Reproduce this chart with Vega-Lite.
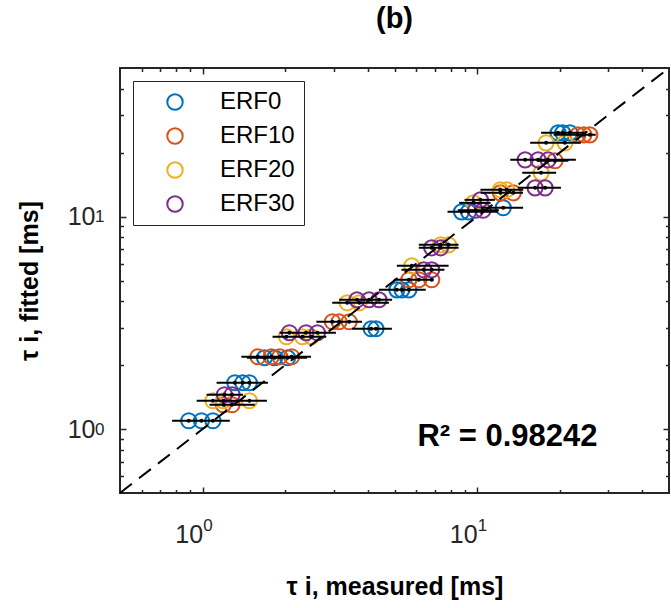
{
  "$schema": "https://vega.github.io/schema/vega-lite/v6.json",
  "width": 549,
  "height": 425,
  "autosize": "none",
  "padding": {"left": 120, "top": 68, "right": 2, "bottom": 115},
  "background": "white",
  "title": {"text": "(b)", "fontSize": 29, "fontWeight": "bold", "font": "Liberation Sans", "color": "black", "offset": 30, "anchor": "middle"},
  "config": {
    "font": "Liberation Sans",
    "view": {"stroke": "#262626", "strokeWidth": 2},
    "axis": {"domain": false, "grid": false, "tickColor": "#262626", "tickWidth": 1.5, "labelFont": "Liberation Sans", "labelColor": "#262626", "titleFont": "Liberation Sans", "titleColor": "black"}
  },
  "datasets": {
    "pts": [
      {"g": "ERF0", "x": 0.89, "y": 1.094}, {"g": "ERF0", "x": 0.99, "y": 1.094}, {"g": "ERF0", "x": 1.09, "y": 1.094},
      {"g": "ERF0", "x": 1.31, "y": 1.651}, {"g": "ERF0", "x": 1.40, "y": 1.651}, {"g": "ERF0", "x": 1.48, "y": 1.651},
      {"g": "ERF0", "x": 1.68, "y": 2.164}, {"g": "ERF0", "x": 1.83, "y": 2.164}, {"g": "ERF0", "x": 2.04, "y": 2.164},
      {"g": "ERF0", "x": 4.11, "y": 2.963}, {"g": "ERF0", "x": 4.28, "y": 2.963},
      {"g": "ERF0", "x": 5.10, "y": 4.52}, {"g": "ERF0", "x": 5.32, "y": 4.52}, {"g": "ERF0", "x": 5.64, "y": 4.52},
      {"g": "ERF0", "x": 8.77, "y": 10.52}, {"g": "ERF0", "x": 9.30, "y": 10.52},
      {"g": "ERF0", "x": 12.45, "y": 11.0},
      {"g": "ERF0", "x": 19.71, "y": 24.77}, {"g": "ERF0", "x": 20.5, "y": 24.77}, {"g": "ERF0", "x": 21.78, "y": 24.77},
      {"g": "ERF10", "x": 1.19, "y": 1.301}, {"g": "ERF10", "x": 1.28, "y": 1.301},
      {"g": "ERF10", "x": 1.59, "y": 2.188}, {"g": "ERF10", "x": 1.78, "y": 2.188}, {"g": "ERF10", "x": 1.91, "y": 2.188}, {"g": "ERF10", "x": 2.11, "y": 2.188},
      {"g": "ERF10", "x": 2.97, "y": 3.197}, {"g": "ERF10", "x": 3.14, "y": 3.197}, {"g": "ERF10", "x": 3.42, "y": 3.197},
      {"g": "ERF10", "x": 5.64, "y": 5.04}, {"g": "ERF10", "x": 6.13, "y": 5.04}, {"g": "ERF10", "x": 6.83, "y": 5.04},
      {"g": "ERF10", "x": 12.15, "y": 12.93}, {"g": "ERF10", "x": 13.54, "y": 12.93},
      {"g": "ERF10", "x": 19.22, "y": 18.3},
      {"g": "ERF10", "x": 23.28, "y": 24.23}, {"g": "ERF10", "x": 24.5, "y": 24.23}, {"g": "ERF10", "x": 25.73, "y": 24.23},
      {"g": "ERF20", "x": 1.09, "y": 1.359}, {"g": "ERF20", "x": 1.19, "y": 1.359}, {"g": "ERF20", "x": 1.48, "y": 1.359},
      {"g": "ERF20", "x": 2.02, "y": 2.718}, {"g": "ERF20", "x": 2.31, "y": 2.718}, {"g": "ERF20", "x": 2.49, "y": 2.718},
      {"g": "ERF20", "x": 3.36, "y": 3.927}, {"g": "ERF20", "x": 3.72, "y": 3.927},
      {"g": "ERF20", "x": 5.78, "y": 5.864},
      {"g": "ERF20", "x": 7.36, "y": 7.361}, {"g": "ERF20", "x": 7.87, "y": 7.361},
      {"g": "ERF20", "x": 9.70, "y": 11.6},
      {"g": "ERF20", "x": 12.15, "y": 13.36}, {"g": "ERF20", "x": 12.8, "y": 13.36},
      {"g": "ERF20", "x": 17.1, "y": 16.06},
      {"g": "ERF20", "x": 17.83, "y": 22.23}, {"g": "ERF20", "x": 20.89, "y": 22.23},
      {"g": "ERF30", "x": 1.20, "y": 1.45}, {"g": "ERF30", "x": 1.28, "y": 1.45},
      {"g": "ERF30", "x": 2.07, "y": 2.838}, {"g": "ERF30", "x": 2.38, "y": 2.838}, {"g": "ERF30", "x": 2.62, "y": 2.838},
      {"g": "ERF30", "x": 3.65, "y": 4.057}, {"g": "ERF30", "x": 4.04, "y": 4.057}, {"g": "ERF30", "x": 4.39, "y": 4.057},
      {"g": "ERF30", "x": 6.39, "y": 5.615}, {"g": "ERF30", "x": 6.83, "y": 5.615},
      {"g": "ERF30", "x": 6.83, "y": 7.126}, {"g": "ERF30", "x": 7.36, "y": 7.126},
      {"g": "ERF30", "x": 9.86, "y": 10.7}, {"g": "ERF30", "x": 10.5, "y": 10.7},
      {"g": "ERF30", "x": 10.28, "y": 11.98},
      {"g": "ERF30", "x": 16.26, "y": 13.65}, {"g": "ERF30", "x": 17.69, "y": 13.65},
      {"g": "ERF30", "x": 14.96, "y": 18.48}, {"g": "ERF30", "x": 16.68, "y": 18.48}, {"g": "ERF30", "x": 18.13, "y": 18.48}
    ],
    "bars": [
      {"g": "ERF0", "y": 1.094, "lo": 0.774, "hi": 1.256},
      {"g": "ERF0", "y": 1.651, "lo": 1.124, "hi": 1.729},
      {"g": "ERF0", "y": 2.164, "lo": 1.45, "hi": 2.40},
      {"g": "ERF0", "y": 2.963, "lo": 3.504, "hi": 4.892},
      {"g": "ERF0", "y": 4.52, "lo": 4.39, "hi": 6.497},
      {"g": "ERF0", "y": 10.52, "lo": 7.8, "hi": 11.9},
      {"g": "ERF0", "y": 11.0, "lo": 10.3, "hi": 14.7},
      {"g": "ERF0", "y": 24.77, "lo": 17.1, "hi": 24.5},
      {"g": "ERF10", "y": 1.301, "lo": 1.06, "hi": 1.55},
      {"g": "ERF10", "y": 2.188, "lo": 1.384, "hi": 2.483},
      {"g": "ERF10", "y": 3.197, "lo": 2.596, "hi": 3.809},
      {"g": "ERF10", "y": 5.04, "lo": 4.97, "hi": 6.94},
      {"g": "ERF10", "y": 12.93, "lo": 10.3, "hi": 14.7},
      {"g": "ERF10", "y": 18.3, "lo": 16.5, "hi": 21.5},
      {"g": "ERF10", "y": 24.23, "lo": 19.0, "hi": 27.05},
      {"g": "ERF20", "y": 1.359, "lo": 0.951, "hi": 1.714},
      {"g": "ERF20", "y": 2.718, "lo": 1.798, "hi": 2.821},
      {"g": "ERF20", "y": 3.927, "lo": 2.966, "hi": 4.771},
      {"g": "ERF20", "y": 5.864, "lo": 5.1, "hi": 7.87},
      {"g": "ERF20", "y": 7.361, "lo": 6.13, "hi": 8.556},
      {"g": "ERF20", "y": 11.6, "lo": 8.6, "hi": 11.2},
      {"g": "ERF20", "y": 13.36, "lo": 10.28, "hi": 14.72},
      {"g": "ERF20", "y": 16.06, "lo": 14.6, "hi": 19.4},
      {"g": "ERF20", "y": 22.23, "lo": 15.6, "hi": 23.87},
      {"g": "ERF30", "y": 1.45, "lo": 1.034, "hi": 1.403},
      {"g": "ERF30", "y": 2.838, "lo": 1.906, "hi": 3.059},
      {"g": "ERF30", "y": 4.057, "lo": 3.144, "hi": 4.9},
      {"g": "ERF30", "y": 5.615, "lo": 5.3, "hi": 7.6},
      {"g": "ERF30", "y": 7.126, "lo": 6.13, "hi": 8.556},
      {"g": "ERF30", "y": 10.7, "lo": 8.5, "hi": 12.0},
      {"g": "ERF30", "y": 11.98, "lo": 9.0, "hi": 11.6},
      {"g": "ERF30", "y": 13.65, "lo": 14.11, "hi": 20.2},
      {"g": "ERF30", "y": 18.48, "lo": 13.2, "hi": 22.89}
    ],
    "diag": [{"x": 0.5, "y": 0.5}, {"x": 50, "y": 50}],
    "ann": [{"x": 12.9, "y": 0.92, "t": "R² = 0.98242"}]
  },
  "layer": [
    {
      "data": {"name": "pts"},
      "mark": {"type": "point", "shape": "circle", "filled": false, "size": 230, "strokeWidth": 2, "opacity": 1},
      "encoding": {
        "x": {"field": "x", "type": "quantitative", "scale": {"type": "log", "domain": [0.5, 50], "nice": false},
              "axis": {"orient": "bottom", "values": [1, 10], "labelExpr": "'10'", "labelFontSize": 25, "labelPadding": 35, "labelAlign": "right", "tickSize": -6, "labelFlush": false, "labelOverlap": false,
                       "title": "τ i, measured [ms]", "titleFontSize": 25, "titleFontWeight": "bold", "titlePadding": 27}},
        "y": {"field": "y", "type": "quantitative", "scale": {"type": "log", "domain": [0.5, 50], "nice": false},
              "axis": {"orient": "left", "values": [1, 10], "labelExpr": "'10'", "labelFontSize": 25, "labelPadding": 31, "labelDy": 5, "tickSize": -6, "labelFlush": false, "labelOverlap": false,
                       "title": "τ i, fitted [ms]", "titleFontSize": 25, "titleFontWeight": "bold", "titlePadding": 25}},
        "color": {"field": "g", "type": "nominal", "scale": {"domain": ["ERF0", "ERF10", "ERF20", "ERF30"], "range": ["#0072BD", "#D95319", "#EDB120", "#7E2F8E"]},
                  "legend": {"title": null, "orient": "top-left", "offset": 13, "padding": 9, "fillColor": "white", "strokeColor": "#262626",
                             "labelFontSize": 24, "labelFont": "Liberation Sans", "labelColor": "black", "symbolType": "circle", "symbolSize": 240, "symbolStrokeWidth": 2, "symbolOffset": 21, "labelOffset": 33, "rowPadding": 10}}
      }
    },
    {
      "data": {"name": "bars"},
      "mark": {"type": "rule", "color": "black", "strokeWidth": 2},
      "encoding": {
        "x": {"field": "lo", "type": "quantitative", "scale": {"type": "log", "domain": [0.5, 50], "nice": false},
              "axis": {"orient": "bottom", "values": [0.6, 0.7, 0.8, 0.9, 2, 3, 4, 5, 6, 7, 8, 9, 20, 30, 40], "labels": false, "tickSize": -3.5, "title": null}},
        "x2": {"field": "hi"},
        "y": {"field": "y", "type": "quantitative", "scale": {"type": "log", "domain": [0.5, 50], "nice": false},
              "axis": {"orient": "left", "values": [0.6, 0.7, 0.8, 0.9, 2, 3, 4, 5, 6, 7, 8, 9, 20, 30, 40], "labels": false, "tickSize": -3.5, "title": null}}
      }
    },
    {
      "data": {"name": "pts"},
      "mark": {"type": "point", "shape": "circle", "filled": true, "size": 16, "color": "black", "opacity": 1},
      "encoding": {
        "x": {"field": "x", "type": "quantitative", "scale": {"type": "log", "domain": [0.5, 50], "nice": false},
              "axis": {"orient": "top", "values": [1, 10], "labels": false, "tickSize": -6, "title": null}},
        "y": {"field": "y", "type": "quantitative", "scale": {"type": "log", "domain": [0.5, 50], "nice": false},
              "axis": {"orient": "right", "values": [1, 10], "labels": false, "tickSize": -6, "title": null}}
      }
    },
    {
      "data": {"name": "diag"},
      "mark": {"type": "line", "color": "black", "strokeWidth": 2, "strokeDash": [15, 9]},
      "encoding": {
        "x": {"field": "x", "type": "quantitative", "scale": {"type": "log", "domain": [0.5, 50], "nice": false},
              "axis": {"orient": "top", "values": [0.6, 0.7, 0.8, 0.9, 2, 3, 4, 5, 6, 7, 8, 9, 20, 30, 40], "labels": false, "tickSize": -3.5, "title": null}},
        "y": {"field": "y", "type": "quantitative", "scale": {"type": "log", "domain": [0.5, 50], "nice": false},
              "axis": {"orient": "right", "values": [0.6, 0.7, 0.8, 0.9, 2, 3, 4, 5, 6, 7, 8, 9, 20, 30, 40], "labels": false, "tickSize": -3.5, "title": null}}
      }
    },
    {
      "data": {"name": "ann"},
      "mark": {"type": "text", "fontSize": 31, "fontWeight": "bold", "font": "Liberation Sans", "color": "black", "align": "center", "baseline": "middle"},
      "encoding": {
        "x": {"field": "x", "type": "quantitative", "scale": {"type": "log", "domain": [0.5, 50], "nice": false},
              "axis": {"orient": "bottom", "values": [1, 10], "labelExpr": "datum.value == 1 ? '0' : '1'", "labelFontSize": 17, "labelPadding": 24, "labelAlign": "left", "ticks": false, "labelFlush": false, "labelOverlap": false, "title": null}},
        "y": {"field": "y", "type": "quantitative", "scale": {"type": "log", "domain": [0.5, 50], "nice": false},
              "axis": {"orient": "left", "values": [1, 10], "labelExpr": "datum.value == 1 ? '0' : '1'", "labelFontSize": 17, "labelPadding": 16, "labelDy": -9, "ticks": false, "labelFlush": false, "labelOverlap": false, "title": null}},
        "text": {"field": "t"}
      }
    }
  ],
  "resolve": {"axis": {"x": "independent", "y": "independent"}}
}
